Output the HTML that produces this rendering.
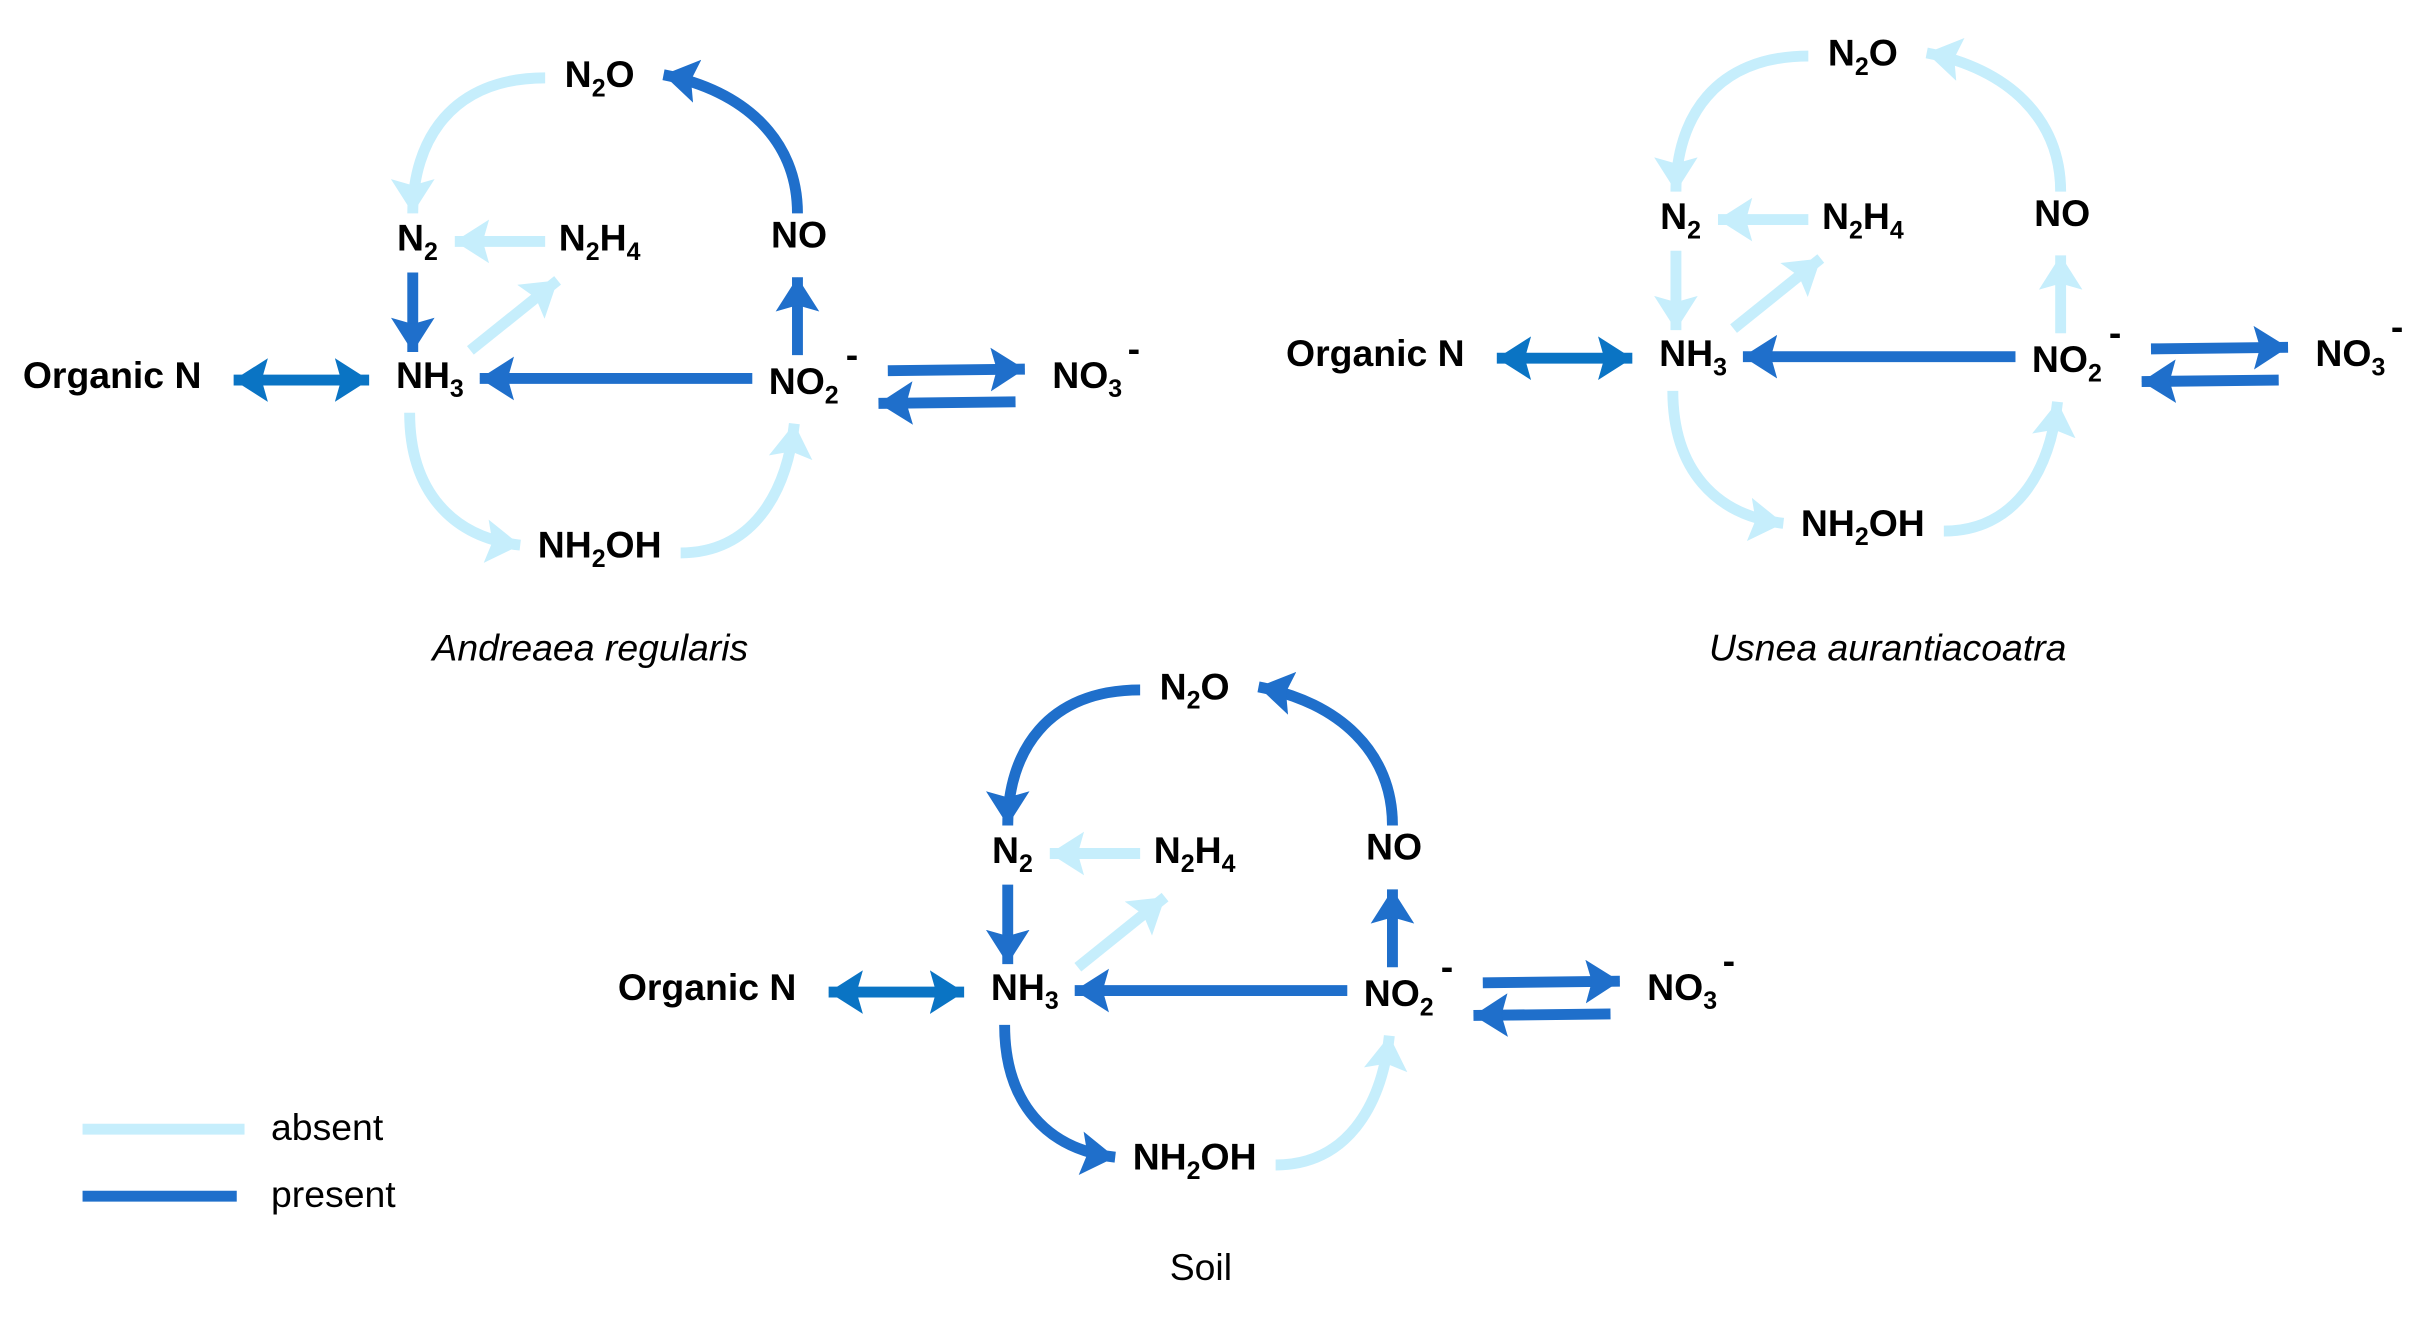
<!DOCTYPE html>
<html><head><meta charset="utf-8"><style>html,body{margin:0;padding:0;background:#fff}svg{display:block}</style></head><body>
<svg width="2422" height="1317" viewBox="0 0 1555 845.6" preserveAspectRatio="none" xmlns="http://www.w3.org/2000/svg">
<defs>
<marker id="al" markerUnits="userSpaceOnUse" viewBox="0 0 24 28" markerWidth="24" markerHeight="28" refX="22" refY="14" orient="auto-start-reverse"><path d="M0,0 L22,14 L0,28 L4,14 z" fill="#c6eefc"/></marker>
<marker id="ad" markerUnits="userSpaceOnUse" viewBox="0 0 24 28" markerWidth="24" markerHeight="28" refX="22" refY="14" orient="auto-start-reverse"><path d="M0,0 L22,14 L0,28 L4,14 z" fill="#1f6fcb"/></marker>
<marker id="ao" markerUnits="userSpaceOnUse" viewBox="0 0 24 28" markerWidth="24" markerHeight="28" refX="22" refY="14" orient="auto-start-reverse"><path d="M0,0 L22,14 L0,28 L4,14 z" fill="#0a74c4"/></marker>
</defs>
<style>
.l{stroke:#c6eefc;stroke-width:7;fill:none;marker-end:url(#al)}
.d{stroke:#1f6fcb;stroke-width:7;fill:none;marker-end:url(#ad)}
.o{stroke:#0a74c4;stroke-width:7;fill:none;marker-end:url(#ao);marker-start:url(#ao)}
text{font-family:"Liberation Sans",sans-serif;font-weight:bold;font-size:24px;fill:#000}
.s{font-size:16px}
.c{font-weight:normal;font-style:italic;font-size:24px}
.n{font-weight:normal;font-size:24px}
</style>

<!-- Diagram 1 -->
<g>
<path class="l" d="M350,50 C290,50 265,90 265,137"/>
<path class="d" d="M512,137 C512,90 478,58 426,48"/>
<path class="l" d="M350,155 L292,155"/>
<path class="d" d="M265,175 L265,226"/>
<path class="l" d="M302,225 L358,180"/>
<path class="d" d="M483,243 L308,243"/>
<path class="d" d="M512,228 L512,178"/>
<path class="d" d="M570,238 L658,237"/>
<path class="d" d="M652,258 L564,259"/>
<path class="o" d="M150,244 L237,244"/>
<path class="l" d="M263,265 C263,315 290,345 334,350"/>
<path class="l" d="M437,355 C482,355 505,318 510,272"/>
<text x="385" y="56" text-anchor="middle">N<tspan class="s" dy="6">2</tspan><tspan dy="-6">O</tspan></text>
<text x="268" y="161" text-anchor="middle">N<tspan class="s" dy="6">2</tspan></text>
<text x="385" y="161" text-anchor="middle">N<tspan class="s" dy="6">2</tspan><tspan dy="-6">H</tspan><tspan class="s" dy="6">4</tspan></text>
<text x="513" y="159" text-anchor="middle">NO</text>
<text x="276" y="249" text-anchor="middle">NH<tspan class="s" dy="6">3</tspan></text>
<text x="516" y="253" text-anchor="middle">NO<tspan class="s" dy="6">2</tspan></text>
<text x="543" y="236">-</text>
<text x="698" y="249" text-anchor="middle">NO<tspan class="s" dy="6">3</tspan></text>
<text x="724" y="232">-</text>
<text x="72" y="249" text-anchor="middle">Organic N</text>
<text x="385" y="358" text-anchor="middle">NH<tspan class="s" dy="6">2</tspan><tspan dy="-6">OH</tspan></text>
</g>
<text class="c" x="379" y="424" text-anchor="middle">Andreaea regularis</text>

<!-- Diagram 2 -->
<g transform="translate(811,-14)">
<path class="l" d="M350,50 C290,50 265,90 265,137"/>
<path class="l" d="M512,137 C512,90 478,58 426,48"/>
<path class="l" d="M350,155 L292,155"/>
<path class="l" d="M265,175 L265,226"/>
<path class="l" d="M302,225 L358,180"/>
<path class="d" d="M483,243 L308,243"/>
<path class="l" d="M512,228 L512,178"/>
<path class="d" d="M570,238 L658,237"/>
<path class="d" d="M652,258 L564,259"/>
<path class="o" d="M150,244 L237,244"/>
<path class="l" d="M263,265 C263,315 290,345 334,350"/>
<path class="l" d="M437,355 C482,355 505,318 510,272"/>
<text x="385" y="56" text-anchor="middle">N<tspan class="s" dy="6">2</tspan><tspan dy="-6">O</tspan></text>
<text x="268" y="161" text-anchor="middle">N<tspan class="s" dy="6">2</tspan></text>
<text x="385" y="161" text-anchor="middle">N<tspan class="s" dy="6">2</tspan><tspan dy="-6">H</tspan><tspan class="s" dy="6">4</tspan></text>
<text x="513" y="159" text-anchor="middle">NO</text>
<text x="276" y="249" text-anchor="middle">NH<tspan class="s" dy="6">3</tspan></text>
<text x="516" y="253" text-anchor="middle">NO<tspan class="s" dy="6">2</tspan></text>
<text x="543" y="236">-</text>
<text x="698" y="249" text-anchor="middle">NO<tspan class="s" dy="6">3</tspan></text>
<text x="724" y="232">-</text>
<text x="72" y="249" text-anchor="middle">Organic N</text>
<text x="385" y="358" text-anchor="middle">NH<tspan class="s" dy="6">2</tspan><tspan dy="-6">OH</tspan></text>
</g>
<text class="c" x="1212" y="424" text-anchor="middle">Usnea aurantiacoatra</text>

<!-- Diagram 3 -->
<g transform="translate(382,393)">
<path class="d" d="M350,50 C290,50 265,90 265,137"/>
<path class="d" d="M512,137 C512,90 478,58 426,48"/>
<path class="l" d="M350,155 L292,155"/>
<path class="d" d="M265,175 L265,226"/>
<path class="l" d="M310,228 L366,183"/>
<path class="d" d="M483,243 L308,243"/>
<path class="d" d="M512,228 L512,178"/>
<path class="d" d="M570,238 L658,237"/>
<path class="d" d="M652,258 L564,259"/>
<path class="o" d="M150,244 L237,244"/>
<path class="d" d="M263,265 C263,315 290,345 334,350"/>
<path class="l" d="M437,355 C482,355 505,318 510,272"/>
<text x="385" y="56" text-anchor="middle">N<tspan class="s" dy="6">2</tspan><tspan dy="-6">O</tspan></text>
<text x="268" y="161" text-anchor="middle">N<tspan class="s" dy="6">2</tspan></text>
<text x="385" y="161" text-anchor="middle">N<tspan class="s" dy="6">2</tspan><tspan dy="-6">H</tspan><tspan class="s" dy="6">4</tspan></text>
<text x="513" y="159" text-anchor="middle">NO</text>
<text x="276" y="249" text-anchor="middle">NH<tspan class="s" dy="6">3</tspan></text>
<text x="516" y="253" text-anchor="middle">NO<tspan class="s" dy="6">2</tspan></text>
<text x="543" y="236">-</text>
<text x="698" y="249" text-anchor="middle">NO<tspan class="s" dy="6">3</tspan></text>
<text x="724" y="232">-</text>
<text x="72" y="249" text-anchor="middle">Organic N</text>
<text x="385" y="358" text-anchor="middle">NH<tspan class="s" dy="6">2</tspan><tspan dy="-6">OH</tspan></text>
</g>
<text class="n" x="771" y="822" text-anchor="middle">Soil</text>

<!-- Legend -->
<line x1="53" y1="725" x2="157" y2="725" stroke="#c6eefc" stroke-width="7"/>
<line x1="53" y1="768" x2="152" y2="768" stroke="#1f6fcb" stroke-width="7"/>
<text class="n" x="174" y="732">absent</text>
<text class="n" x="174" y="775">present</text>
</svg>
</body></html>
